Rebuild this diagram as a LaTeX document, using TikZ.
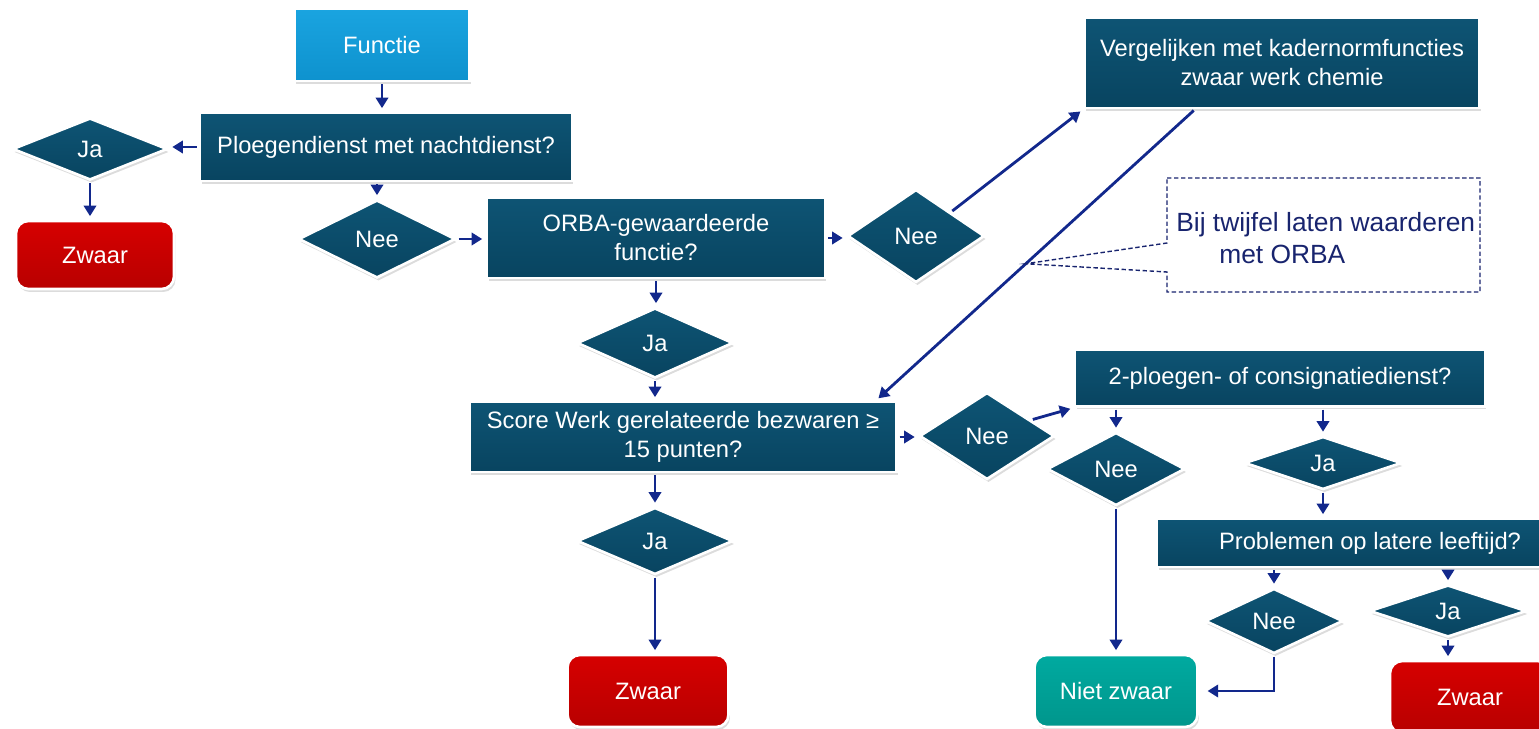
\documentclass[tikz,border=0pt]{standalone}
\usepackage{fontspec}
\setmainfont{Liberation Sans}
\usetikzlibrary{arrows.meta,shapes.geometric,shadows}

\definecolor{dktop}{RGB}{14,84,116}
\definecolor{dkbot}{RGB}{8,68,96}
\definecolor{lbtop}{RGB}{26,164,224}
\definecolor{lbbot}{RGB}{14,146,206}
\definecolor{redtop}{RGB}{214,0,0}
\definecolor{redbot}{RGB}{184,0,0}
\definecolor{tealtop}{RGB}{0,170,160}
\definecolor{tealbot}{RGB}{0,150,140}
\definecolor{pijl}{RGB}{18,40,140}
\definecolor{notitie}{RGB}{24,36,110}

\tikzset{
  x=0.02cm, y=-0.02cm,
  schaduw/.style={drop shadow={opacity=0.28,shadow xshift=0.03cm,shadow yshift=-0.06cm}},
  box/.style={rectangle,draw=white,line width=1.5pt,top color=dktop,bottom color=dkbot,text=white,font=\fontsize{13.5}{16.5}\selectfont,align=center,inner sep=2pt,schaduw},
  keuze/.style={diamond,draw=white,line width=1.5pt,top color=dktop,bottom color=dkbot,text=white,font=\fontsize{13.5}{16.5}\selectfont,inner sep=0pt,aspect=2,schaduw},
  eind/.style={rectangle,rounded corners=7pt,draw=white,line width=1.5pt,text=white,font=\fontsize{13.5}{16.5}\selectfont,minimum width=3.22cm,minimum height=1.44cm,schaduw},
  zwaar/.style={eind,top color=redtop,bottom color=redbot},
  pijlstijl/.style={draw=pijl,line width=1.6pt,-{Triangle[width=7pt,length=6pt]},shorten <=1pt,shorten >=2pt},
  notitiestijl/.style={draw=notitie,dash pattern=on 2.5pt off 1.5pt,line width=0.8pt},
}

\begin{document}
\begin{tikzpicture}
  \useasboundingbox (0,0) rectangle (1539,729);

  \node [box,top color=lbtop,bottom color=lbbot,minimum width=3.5cm,minimum height=1.44cm] (functie) at (382,45) {Functie};
  \node [box,minimum width=7.44cm,minimum height=1.36cm] (ploeg) at (386,147) {Ploegendienst met nachtdienst?};
  \node [keuze,minimum width=3.1cm,minimum height=1.24cm] (ja1) at (90,149) {Ja};
  \node [zwaar,minimum width=3.16cm,minimum height=1.36cm] (zwaar1) at (95,255) {Zwaar};
  \node [keuze,minimum width=3.14cm,minimum height=1.56cm] (nee1) at (377,239) {Nee};
  \node [box,minimum width=6.76cm,minimum height=1.6cm] (orba) at (656,238) {ORBA-gewaardeerde\\functie?};
  \node [keuze,minimum width=2.74cm,minimum height=1.86cm] (nee2) at (916,236) {Nee};
  \node [box,minimum width=7.9cm,minimum height=1.8cm] (vergelijk) at (1282,63) {Vergelijken met kadernormfuncties\\zwaar werk chemie};
  \node [keuze,minimum width=3.12cm,minimum height=1.4cm] (ja2) at (655,343) {Ja};
  \node [box,minimum width=8.54cm,minimum height=1.4cm] (score) at (683,437) {Score Werk gerelateerde bezwaren ≥\\15 punten?};
  \node [keuze,minimum width=3.12cm,minimum height=1.34cm] (ja3) at (655,541) {Ja};
  \node [zwaar] (zwaar2) at (648,691) {Zwaar};
  \node [keuze,minimum width=2.7cm,minimum height=1.74cm] (nee3) at (987,436) {Nee};
  \node [box,minimum width=8.2cm,minimum height=1.14cm] (ploeg2) at (1280,378) {2-ploegen- of consignatiedienst?};
  \node [keuze,minimum width=2.76cm,minimum height=1.46cm] (nee4) at (1116,469) {Nee};
  \node [keuze,minimum width=3.14cm,minimum height=1.06cm] (ja4) at (1323,463) {Ja};
  \node [box,minimum width=8.52cm,minimum height=0.96cm] (later) at (1370,543) {Problemen op latere leeftijd?};
  \node [keuze,minimum width=2.76cm,minimum height=1.3cm] (nee5) at (1274,621) {Nee};
  \node [keuze,minimum width=3.14cm,minimum height=1.04cm] (ja5) at (1448,611) {Ja};
  \node [eind,top color=tealtop,bottom color=tealbot,minimum width=3.26cm] (nietzwaar) at (1116,691) {Niet zwaar};
  \node [zwaar,minimum width=3.2cm] (zwaar3) at (1470,697) {Zwaar};

  \draw [pijlstijl] (functie.south) -- (functie.south |- ploeg.north);
  \draw [pijlstijl] (ploeg.west) -- (ploeg.west -| ja1.east);
  \draw [pijlstijl] (ja1.south) -- (ja1.south |- zwaar1.north);
  \draw [pijlstijl] (ploeg.south -| nee1.north) -- (nee1.north);
  \draw [pijlstijl] (nee1.east) -- (nee1.east -| orba.west);
  \draw [pijlstijl] (orba.east) -- (orba.east -| nee2.west);
  \draw [pijlstijl] (nee2.north east) -- (vergelijk.south west);
  \draw [pijlstijl] ([xshift=-1.74cm]vergelijk.south) -- coordinate [pos=0.53] (punt) ([xshift=-0.44cm]score.north east);
  \draw [pijlstijl] (orba.south) -- (orba.south |- ja2.north);
  \draw [pijlstijl] (ja2.south) -- (ja2.south |- score.north);
  \draw [pijlstijl] (score.east) -- (score.east -| nee3.west);
  \draw [pijlstijl] (score.south -| ja3.north) -- (ja3.north);
  \draw [pijlstijl] (ja3.south) -- (ja3.south |- zwaar2.north);
  \draw [pijlstijl] (nee3.20) -- (ploeg2.south west);
  \draw [pijlstijl] (ploeg2.south -| nee4.north) -- (nee4.north);
  \draw [pijlstijl] (ploeg2.south -| ja4.north) -- (ja4.north);
  \draw [pijlstijl] (nee4.south) -- (nee4.south |- nietzwaar.north);
  \draw [pijlstijl] (ja4.south) -- (ja4.south |- later.north);
  \draw [pijlstijl] (later.south -| nee5.north) -- (nee5.north);
  \draw [pijlstijl] (later.south -| ja5.north) -- (ja5.north);
  \draw [pijlstijl,shorten >=5pt] (nee5.south) |- (nietzwaar.east);
  \draw [pijlstijl] (ja5.south) -- (ja5.south |- zwaar3.north);

  \draw [notitiestijl] (1167,178) -- (1480,178) -- (1480,292) -- (1167,292) -- (1167,272) -- (punt) -- (1167,243) -- cycle;
  \node [anchor=west,align=left,inner sep=0pt,text=notitie,font=\fontsize{15}{18}\selectfont] (twijfel) at (1176,238) {Bij twijfel laten waarderen\\\hspace*{0.86cm}met ORBA};
\end{tikzpicture}
\end{document}
